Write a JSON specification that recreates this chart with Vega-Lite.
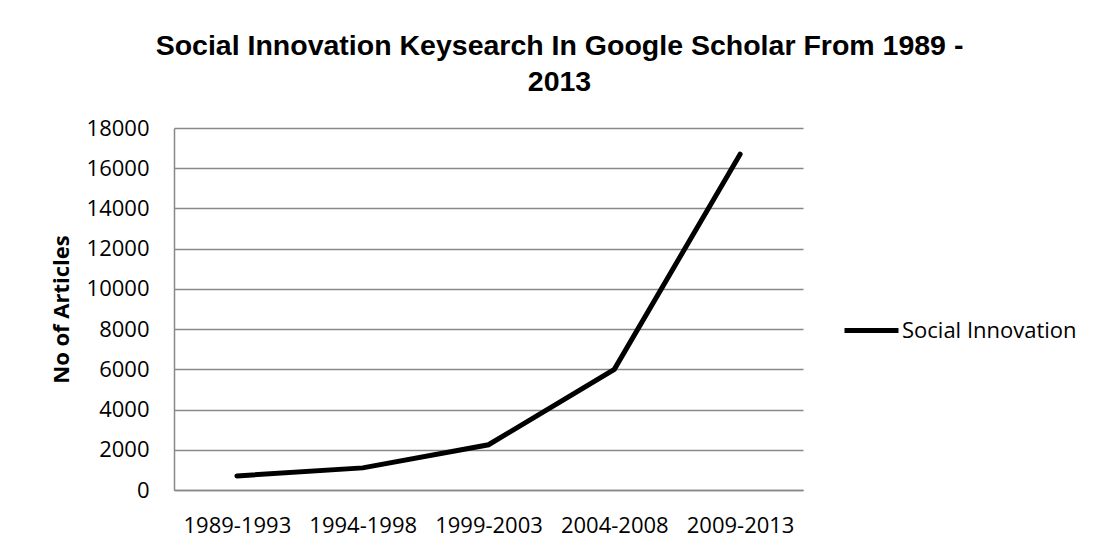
{
  "$schema": "https://vega.github.io/schema/vega-lite/v6.json",
  "width": 629,
  "height": 362,
  "autosize": {"type": "none"},
  "padding": {"left": 174, "top": 128, "right": 303, "bottom": 62},
  "background": "white",
  "title": {
    "text": ["Social Innovation Keysearch In Google Scholar From 1989 -", "2013"],
    "font": "Liberation Sans",
    "fontSize": 28.5,
    "fontWeight": "bold",
    "color": "black",
    "anchor": "middle",
    "dx": 71,
    "offset": 21,
    "lineHeight": 36
  },
  "data": {
    "values": [
      {"period": "1989-1993", "articles": 700, "series": "Social Innovation"},
      {"period": "1994-1998", "articles": 1100, "series": "Social Innovation"},
      {"period": "1999-2003", "articles": 2250, "series": "Social Innovation"},
      {"period": "2004-2008", "articles": 6000, "series": "Social Innovation"},
      {"period": "2009-2013", "articles": 16700, "series": "Social Innovation"}
    ]
  },
  "mark": {"type": "line", "strokeWidth": 5, "strokeCap": "round", "strokeJoin": "miter"},
  "encoding": {
    "x": {
      "field": "period",
      "type": "ordinal",
      "sort": null,
      "scale": {"type": "point", "padding": 0.5},
      "axis": {
        "title": null,
        "labelAngle": 0,
        "ticks": false,
        "labelPadding": 25,
        "labelFont": "Open Sans",
        "labelFontSize": 22,
        "labelColor": "black",
        "domainColor": "#888888",
        "domainWidth": 1.5,
        "grid": false
      }
    },
    "y": {
      "field": "articles",
      "type": "quantitative",
      "scale": {"domain": [0, 18000], "nice": false},
      "axis": {
        "title": "No of Articles",
        "titleFont": "Open Sans",
        "titleFontSize": 22,
        "titleFontWeight": "bold",
        "titleColor": "black",
        "titlePadding": 13,
        "values": [0, 2000, 4000, 6000, 8000, 10000, 12000, 14000, 16000, 18000],
        "format": "d",
        "ticks": false,
        "labelPadding": 25,
        "labelFont": "Open Sans",
        "labelFontSize": 22,
        "labelColor": "black",
        "domainColor": "#888888",
        "domainWidth": 1.5,
        "grid": true,
        "gridColor": "#888888",
        "gridWidth": 1.5
      }
    },
    "color": {
      "field": "series",
      "type": "nominal",
      "scale": {"range": ["black"]},
      "legend": {
        "title": null,
        "orient": "none",
        "legendX": 668,
        "legendY": 173,
        "padding": 0,
        "symbolType": "stroke",
        "symbolSize": 2916,
        "symbolStrokeWidth": 5,
        "labelOffset": 1,
        "labelLimit": 400,
        "labelFont": "Open Sans",
        "labelFontSize": 22,
        "labelColor": "black"
      }
    }
  },
  "config": {"view": {"stroke": null}}
}
